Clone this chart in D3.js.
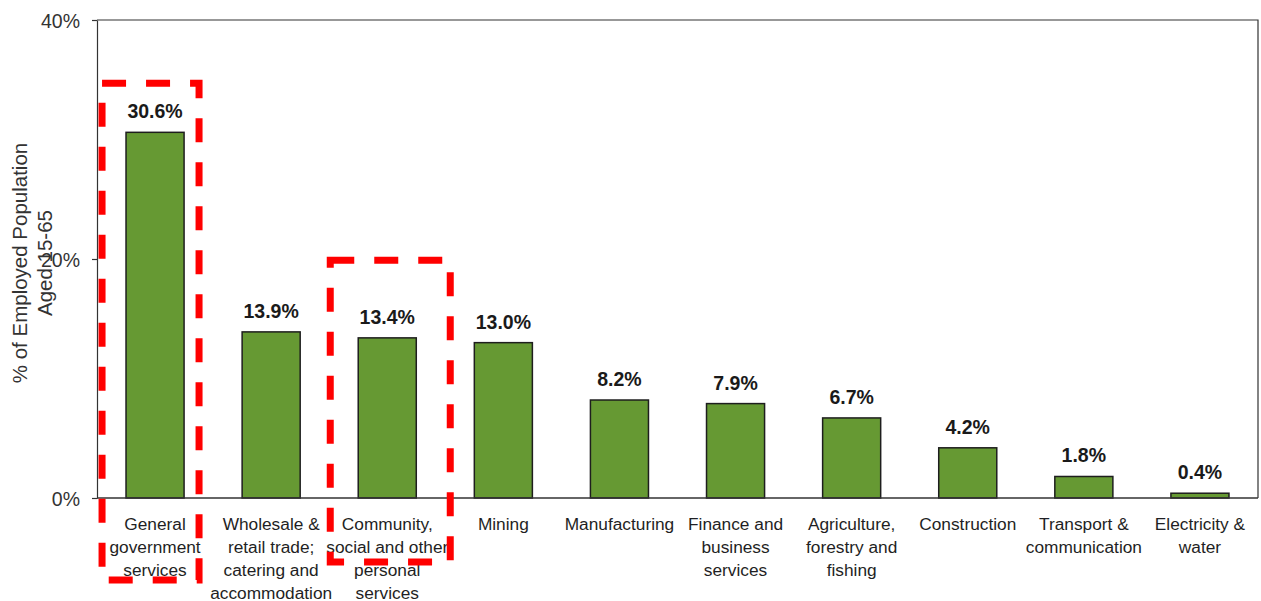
<!DOCTYPE html>
<html>
<head>
<meta charset="utf-8">
<script src="https://cdn.jsdelivr.net/npm/d3@7"></script>
<style>
  html, body { margin: 0; padding: 0; background: #fff; }
  svg { display: block; font-family: "Liberation Sans", Arial, sans-serif; }
</style>
</head>
<body>
<svg id="chart" width="1261" height="601"></svg>
<script>
// Employment by sector, % of employed population aged 15-65
const categories = [
  "General government services",
  "Wholesale & retail trade; catering and accommodation",
  "Community, social and other personal services",
  "Mining",
  "Manufacturing",
  "Finance and business services",
  "Agriculture, forestry and fishing",
  "Construction",
  "Transport & communication",
  "Electricity & water"
];
const categoryLines = [
  ["General", "government", "services"],
  ["Wholesale &", "retail trade;", "catering and", "accommodation"],
  ["Community,", "social and other", "personal", "services"],
  ["Mining"],
  ["Manufacturing"],
  ["Finance and", "business", "services"],
  ["Agriculture,", "forestry and", "fishing"],
  ["Construction"],
  ["Transport &", "communication"],
  ["Electricity &", "water"]
];
const values = [30.6, 13.9, 13.4, 13.0, 8.2, 7.9, 6.7, 4.2, 1.8, 0.4];
const yTicks = [0, 20, 40];
const yTitle = ["% of Employed Population", "Aged 15-65"];

// Highlighted sectors: category index and the % level of each frame's top edge
const highlightIndex = [0, 2];
const highlightTop = [34.7, 19.9];

const svg = d3.select("#chart");
const plotLeft = 97, plotRight = 1258, plotTop = 20, plotBottom = 498;

const x = d3.scaleBand()
  .domain(categories)
  .range([plotLeft, plotRight])
  .paddingInner(0.5)
  .paddingOuter(0.25);

const y = d3.scaleLinear().domain([0, 40]).range([plotBottom, plotTop]);

// Plot frame (top and right edges)
svg.append("path")
  .attr("d", `M${plotLeft},${plotTop}H${plotRight}V${plotBottom}`)
  .attr("fill", "none")
  .attr("stroke", "#333")
  .attr("stroke-width", 1.2);

// Bars
svg.append("g").selectAll("rect")
  .data(values)
  .join("rect")
  .attr("x", (d, i) => x(categories[i]))
  .attr("y", d => y(d))
  .attr("width", x.bandwidth())
  .attr("height", d => y(0) - y(d))
  .attr("fill", "#669933")
  .attr("stroke", "#1e1e1e")
  .attr("stroke-width", 1.5);

// Y axis
const yAxis = svg.append("g")
  .attr("transform", `translate(${plotLeft},0)`)
  .call(d3.axisLeft(y).tickValues(yTicks).tickFormat(d => d + "%").tickSize(5).tickPadding(12).tickSizeOuter(0));
yAxis.select(".domain").attr("stroke", "#333").attr("stroke-width", 1.2);
yAxis.selectAll(".tick line").attr("stroke", "#333").attr("stroke-width", 1.2);
yAxis.selectAll(".tick text")
  .attr("font-size", 19.5)
  .attr("fill", "#333")
  .attr("font-family", "Liberation Sans, Arial, sans-serif")
  .attr("dy", "0.36em");

// X axis baseline
svg.append("line")
  .attr("x1", plotLeft).attr("x2", plotRight)
  .attr("y1", y(0)).attr("y2", y(0))
  .attr("stroke", "#333")
  .attr("stroke-width", 1.4);

// Category labels
const catG = svg.append("g");
categoryLines.forEach((lines, i) => {
  const cx = x(categories[i]) + x.bandwidth() / 2;
  const t = catG.append("text")
    .attr("text-anchor", "middle")
    .attr("font-size", 17.3)
    .attr("fill", "#1f1f24");
  lines.forEach((ln, j) => {
    t.append("tspan")
      .attr("x", cx)
      .attr("y", plotBottom + 31.5 + j * 23)
      .text(ln);
  });
});

// Value labels
svg.append("g").selectAll("text")
  .data(values)
  .join("text")
  .attr("x", (d, i) => x(categories[i]) + x.bandwidth() / 2)
  .attr("y", d => y(d) - 14)
  .attr("text-anchor", "middle")
  .attr("font-size", 19.5)
  .attr("font-weight", "bold")
  .attr("fill", "#1a1a1a")
  .text(d => d.toFixed(1) + "%");

// Y axis title
const yt = svg.append("text")
  .attr("transform", `translate(27,263) rotate(-90)`)
  .attr("text-anchor", "middle")
  .attr("font-size", 20.5)
  .attr("fill", "#333");
yTitle.forEach((ln, j) => {
  yt.append("tspan").attr("x", 0).attr("dy", j === 0 ? 0 : 24.5).text(ln);
});

// Dashed highlight frames around selected sectors
const frameInset = [[53, 44, 580], [57, 63, 562]];
highlightIndex.forEach((ci, k) => {
  const cx = x(categories[ci]) + x.bandwidth() / 2;
  const x0 = cx - frameInset[k][0];
  const x1 = cx + frameInset[k][1];
  const y0 = y(highlightTop[k]);
  const y1 = frameInset[k][2];
  svg.append("rect")
    .attr("x", x0).attr("y", y0)
    .attr("width", x1 - x0).attr("height", y1 - y0)
    .attr("fill", "none")
    .attr("stroke", "#ff0000")
    .attr("stroke-width", 7)
    .attr("stroke-dasharray", "24,20");
});
</script>
</body>
</html>
